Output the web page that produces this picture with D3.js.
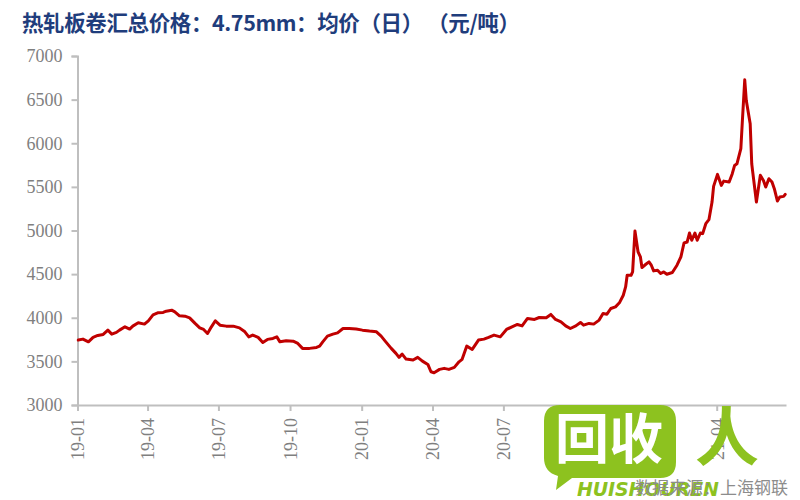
<!DOCTYPE html>
<html>
<head>
<meta charset="utf-8">
<script src="https://cdn.jsdelivr.net/npm/d3@7"></script>
<style>
  html, body { margin: 0; padding: 0; background: #fff; }
  svg { display: block; }
</style>
</head>
<body>
<svg id="chart" width="800" height="500"></svg>
<script>
// ---- data ----
const titleText = "热轧板卷汇总价格：4.75mm：均价（日） （元/吨）";
const sourceText = "数据来源：上海钢联";
const yTicks = [3000, 3500, 4000, 4500, 5000, 5500, 6000, 6500, 7000];
const xTickLabels = ["19-01","19-04","19-07","19-10","20-01","20-04","20-07","20-10","21-01","21-04"];
const dates = [
"2019-01-02","2019-01-08","2019-01-15","2019-01-21","2019-01-27","2019-02-03","2019-02-09","2019-02-14","2019-02-20","2019-02-24",
"2019-03-03","2019-03-09","2019-03-13","2019-03-20","2019-03-28","2019-04-02","2019-04-08","2019-04-14","2019-04-21","2019-04-25",
"2019-05-02","2019-05-06","2019-05-12","2019-05-19","2019-05-25","2019-06-01","2019-06-07","2019-06-12","2019-06-17","2019-06-22",
"2019-06-27","2019-07-03","2019-07-11","2019-07-20","2019-07-28","2019-08-04","2019-08-09","2019-08-14","2019-08-21","2019-08-27",
"2019-09-02","2019-09-09","2019-09-14","2019-09-18","2019-09-26","2019-10-05","2019-10-11","2019-10-17","2019-10-26","2019-11-04",
"2019-11-08","2019-11-12","2019-11-18","2019-11-25","2019-12-01","2019-12-08","2019-12-16","2019-12-25","2020-01-02","2020-01-11",
"2020-01-20","2020-01-26","2020-02-01","2020-02-08","2020-02-14","2020-02-18","2020-02-22","2020-02-27","2020-03-07","2020-03-13",
"2020-03-19","2020-03-26","2020-03-30","2020-04-03","2020-04-10","2020-04-16","2020-04-22","2020-04-29","2020-05-05","2020-05-09",
"2020-05-15","2020-05-22","2020-05-30","2020-06-06","2020-06-12","2020-06-19","2020-06-27","2020-07-05","2020-07-12","2020-07-19",
"2020-07-25","2020-08-01","2020-08-10","2020-08-16","2020-08-25","2020-08-31","2020-09-06","2020-09-13","2020-09-19","2020-09-25",
"2020-10-02","2020-10-08","2020-10-12","2020-10-19","2020-10-25","2020-11-01","2020-11-06","2020-11-11","2020-11-16","2020-11-22",
"2020-11-27","2020-12-02","2020-12-05","2020-12-07","2020-12-12","2020-12-14","2020-12-17","2020-12-21","2020-12-24","2020-12-26",
"2020-12-31","2021-01-04","2021-01-07","2021-01-10","2021-01-15","2021-01-19","2021-01-23","2021-01-27","2021-02-03","2021-02-09",
"2021-02-14","2021-02-18","2021-02-22","2021-02-25","2021-02-28","2021-03-04","2021-03-07","2021-03-11","2021-03-14","2021-03-18",
"2021-03-22","2021-03-26","2021-03-28","2021-04-02","2021-04-07","2021-04-10","2021-04-17","2021-04-21","2021-04-24","2021-04-27",
"2021-05-02","2021-05-04","2021-05-07","2021-05-09","2021-05-14","2021-05-16","2021-05-17","2021-05-22","2021-05-27","2021-05-31",
"2021-06-03","2021-06-07","2021-06-11","2021-06-14","2021-06-18","2021-06-21","2021-06-26","2021-06-28"
];
const prices = [
3744,3755,3724,3775,3797,3809,3858,3812,3832,3858,
3896,3870,3904,3942,3927,3965,4033,4056,4061,4075,
4087,4068,4022,4018,3999,3935,3884,3866,3820,3896,
3965,3915,3904,3904,3884,3839,3781,3801,3775,3717,
3752,3763,3781,3724,3736,3732,3706,3649,3649,3660,
3675,3724,3789,3812,3827,3877,3877,3870,3858,3847,
3839,3789,3724,3649,3592,3546,3584,3526,3515,3546,
3503,3465,3381,3370,3408,3420,3408,3431,3495,3523,
3675,3637,3744,3755,3775,3801,3781,3866,3896,3923,
3907,3992,3981,4003,3999,4038,3981,3953,3907,3877,
3907,3946,3915,3935,3927,3973,4049,4041,4106,4125,
4171,4258,4353,4487,4487,4525,4994,4754,4697,4575,
4613,4640,4602,4537,4545,4507,4525,4499,4518,4602,
4697,4857,4868,4971,4888,4971,4888,4971,4964,5078,
5124,5326,5506,5643,5517,5566,5555,5651,5746,5765,
5937,6261,6727,6490,6223,5765,5689,5326,5632,5574,
5498,5594,5555,5479,5338,5383,5391,5414
];

// ---- drawing ----
const svg = d3.select("#chart");
const parse = d3.timeParse("%Y-%m-%d");
const data = dates.map((d, i) => ({ date: parse(d), value: prices[i] }));

const x = d3.scaleTime()
  .domain([parse("2019-01-01"), parse("2021-06-29")])
  .range([77.5, 786]);
const y = d3.scaleLinear().domain([3000, 7000]).range([405, 56]);

const axisColor = "#bfbfbf";
const labelColor = "#7f7f7f";
const serif = "'Liberation Serif','Times New Roman',serif";

// title
svg.append("text")
  .attr("x", 22).attr("y", 31)
  .attr("font-family", "'Noto Sans CJK SC', sans-serif")
  .attr("font-weight", "bold")
  .attr("font-size", 21.5)
  .attr("textLength", 498)
  .attr("fill", "#1f3d7c")
  .text(titleText);

// y axis
const yAxis = svg.append("g")
  .attr("transform", "translate(77.5,0)")
  .call(d3.axisLeft(y).tickValues(yTicks).tickSize(6).tickPadding(9).tickFormat(d3.format("d")));
yAxis.select(".domain").attr("stroke", axisColor).attr("stroke-width", 2);
yAxis.selectAll(".tick line").attr("stroke", axisColor).attr("stroke-width", 2);
yAxis.selectAll(".tick text")
  .attr("fill", labelColor).attr("font-family", serif).attr("font-size", 18);

// x axis
const tickDates = xTickLabels.map(s => parse("20" + s + "-01"));
const xAxis = svg.append("g")
  .attr("transform", "translate(0,405)")
  .call(d3.axisBottom(x).tickValues(tickDates).tickSize(6).tickSizeOuter(0)
        .tickFormat((d, i) => xTickLabels[i]));
xAxis.select(".domain").attr("stroke", axisColor).attr("stroke-width", 2);
xAxis.selectAll(".tick line").attr("stroke", axisColor).attr("stroke-width", 2);
xAxis.selectAll(".tick text")
  .attr("fill", labelColor).attr("font-family", serif).attr("font-size", 18)
  .attr("text-anchor", "end")
  .attr("transform", "rotate(-90)")
  .attr("x", -13).attr("y", 0).attr("dy", "0.35em");

// line
const line = d3.line().x(d => x(d.date)).y(d => y(d.value));
svg.append("path")
  .datum(data)
  .attr("d", line)
  .attr("fill", "none")
  .attr("stroke", "#c00000")
  .attr("stroke-width", 3)
  .attr("stroke-linejoin", "round")
  .attr("stroke-linecap", "round");

// watermark (logo) and source note
const wm = svg.append("g");
wm.append("path")
  .attr("d", "M560,405 H660 Q676,405 676,421 V462 Q676,478 660,478 H572 L556,490 L558,476 Q544,472 544,458 V421 Q544,405 560,405 Z")
  .attr("fill", "#8dc21f");
wm.append("text")
  .attr("x", 609).attr("y", 459)
  .attr("text-anchor", "middle")
  .attr("font-family", "'Noto Sans CJK SC', sans-serif")
  .attr("font-weight", "bold")
  .attr("font-size", 54)
  .attr("fill", "#ffffff")
  .text("回收");
wm.append("text")
  .attr("x", 727).attr("y", 460)
  .attr("text-anchor", "middle")
  .attr("font-family", "'Noto Sans CJK SC', sans-serif")
  .attr("font-weight", "bold")
  .attr("font-size", 64)
  .attr("fill", "#8dc21f")
  .text("人");
svg.append("text")
  .attr("x", 788).attr("y", 494)
  .attr("text-anchor", "end")
  .attr("font-family", "'Noto Sans CJK SC', sans-serif")
  .attr("font-size", 17)
  .attr("fill", "#8c8c8c")
  .text(sourceText);
wm.append("text")
  .attr("x", 577).attr("y", 496)
  .attr("font-family", "'DejaVu Sans', sans-serif")
  .attr("font-weight", "bold")
  .attr("font-style", "italic")
  .attr("font-size", 19)
  .attr("textLength", 142)
  .attr("fill", "#8dc21f")
  .text("HUISHOUREN");
</script>
</body>
</html>
